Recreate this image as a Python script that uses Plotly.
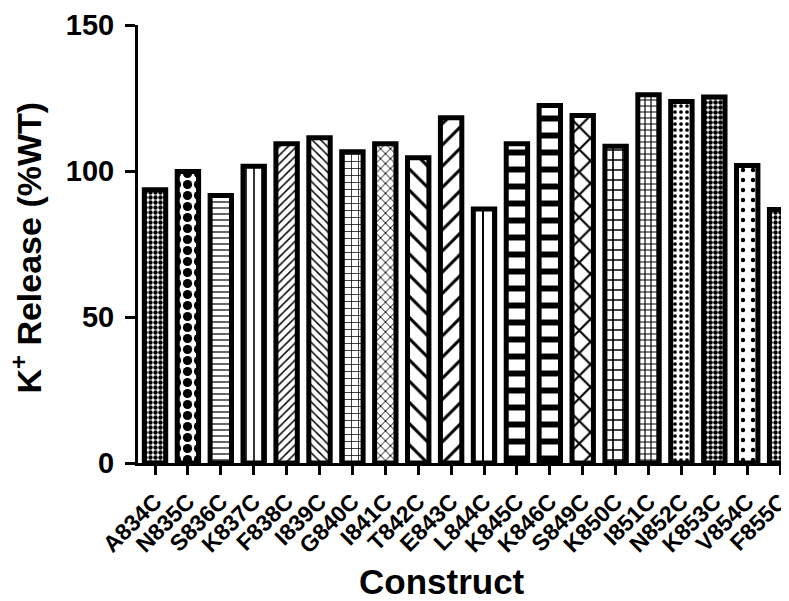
import plotly.graph_objects as go

categories = ["A834C", "N835C", "S836C", "K837C", "F838C", "I839C", "G840C", "I841C",
              "T842C", "E843C", "L844C", "K845C", "K846C", "S849C", "K850C", "I851C",
              "N852C", "K853C", "V854C", "F855C"]
values = [93.6, 99.8, 91.6, 101.6, 109.3, 111.4, 106.6, 109.3,
          104.5, 118.2, 87.0, 109.3, 122.4, 119.0, 108.5, 126.1,
          123.8, 125.3, 101.9, 86.8]
y_ticks = [0, 50, 100, 150]

pat_shape = [".", ".", "-", "|", "/", "\\", "+", "x",
             "\\", "/", "|", "-", "-", "x", "+", "+",
             ".", ".", ".", "."]
pat_size = [5, 11, 6, 8, 6, 6, 7, 7,
            15, 15, 10, 17, 17, 16, 10, 6,
            6, 5, 10, 5]
pat_sol = [0.6, 0.55, 0.2, 0.2, 0.25, 0.25, 0.2, 0.25,
           0.2, 0.2, 0.2, 0.35, 0.35, 0.25, 0.3, 0.35,
           0.3, 0.65, 0.15, 0.6]

FONT = "Arial, Liberation Sans, sans-serif"

fig = go.Figure()
fig.add_trace(go.Bar(
    x=categories, y=values, width=0.65,
    marker=dict(color="white",
                line=dict(color="black", width=5),
                pattern=dict(shape=pat_shape, size=pat_size, solidity=pat_sol,
                             fgcolor="black", bgcolor="white", fillmode="replace")),
))

fig.update_layout(
    width=789, height=601,
    margin=dict(l=130, r=8, t=17, b=146, autoexpand=False),
    plot_bgcolor="white", paper_bgcolor="white",
    showlegend=False,
    font=dict(family=FONT, color="black"),
    xaxis=dict(range=[-0.517, 19.27], showline=True, linewidth=3, linecolor="black",
               ticks="outside", ticklen=9, tickwidth=3, tickcolor="black",
               tickangle=-45, ticklabelstandoff=4,
               tickfont=dict(family=FONT, size=23, color="black", weight="bold"),
               showgrid=False, zeroline=False, automargin=False),
    yaxis=dict(range=[0, 150], tickvals=y_ticks, showline=True, linewidth=3, linecolor="black",
               ticks="outside", ticklen=10, tickwidth=3, tickcolor="black",
               ticklabelstandoff=5,
               tickfont=dict(family=FONT, size=29, color="black", weight="bold"),
               showgrid=False, zeroline=False, automargin=False),
    annotations=[
        dict(text="<b>Construct</b>", xref="paper", yref="paper", x=0.467, y=-0.271,
             showarrow=False, xanchor="center", yanchor="middle",
             font=dict(family=FONT, size=35, color="black")),
        dict(text="<b>K<sup>+</sup> Release (%WT)</b>", xref="paper", yref="paper",
             x=-0.172, y=0.492, textangle=-90, showarrow=False,
             xanchor="center", yanchor="middle",
             font=dict(family=FONT, size=34, color="black")),
    ],
)

fig.write_html("out.html")
